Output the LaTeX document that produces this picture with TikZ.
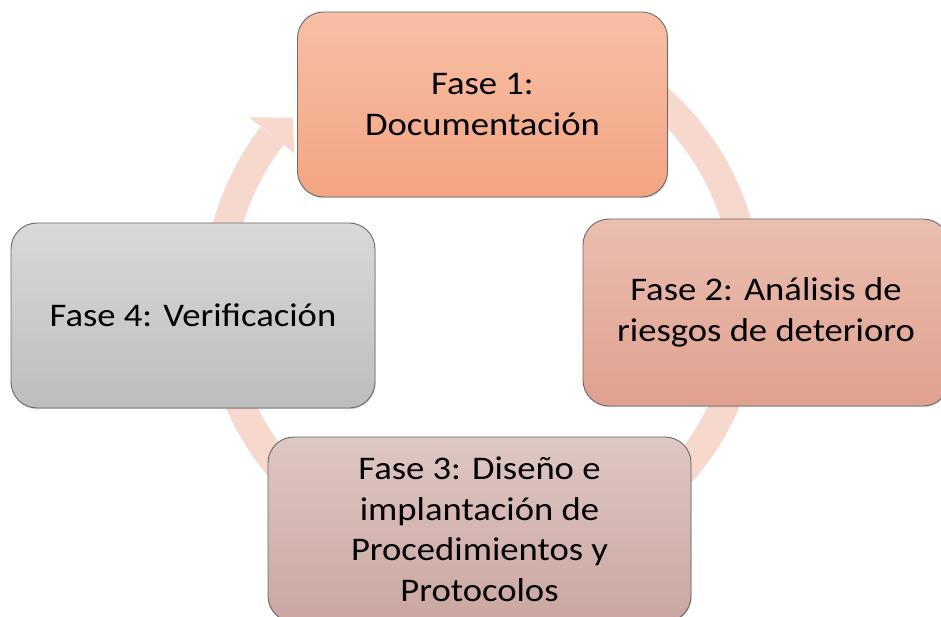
\documentclass[tikz,border=0pt]{standalone}
\usepackage{fontspec}
\setmainfont{Carlito}[FakeStretch=1.11]
\usetikzlibrary{calc,shadows}
\definecolor{arccol}{RGB}{247,216,205}
\definecolor{edgecol}{RGB}{105,105,105}
\definecolor{aTop}{RGB}{247,191,166}
\definecolor{aBot}{RGB}{244,164,130}
\definecolor{bTop}{RGB}{234,190,176}
\definecolor{bBot}{RGB}{224,161,143}
\definecolor{cTop}{RGB}{222,199,196}
\definecolor{cBot}{RGB}{203,166,161}
\definecolor{dTop}{RGB}{217,217,217}
\definecolor{dBot}{RGB}{189,189,189}
\tikzset{
  phase/.style={draw=edgecol, line width=0.9pt, rounded corners=26pt,
    align=center, inner sep=0pt, font=\fontsize{33}{40.5}\selectfont,
    drop shadow={shadow xshift=0.6pt, shadow yshift=-1.2pt, opacity=0.35}},
  cyclearc/.style={draw=arccol, line width=29pt},
}
\begin{document}
\begin{tikzpicture}[x=1pt,y=1pt]
\useasboundingbox (0,0) rectangle (941,-617);
\clip (0,0) rectangle (941,-617);
\coordinate (C) at (482.5,-297);
% cycle arrow
\draw[cyclearc] ($(C)+(90:265)$) arc[start angle=90, end angle=-217.5, radius=265];
\fill[arccol] ($(C)+(142.4:294.5)$) -- ($(C)+(136.6:261)$) -- ($(C)+(142.6:237)$) -- cycle;
% phases
\node[phase, top color=aTop, bottom color=aBot, minimum width=370pt, minimum height=185pt]
  (f1) at (482.5,-104.5) {Fase 1:\\Documentación};
\node[phase, top color=bTop, bottom color=bBot, minimum width=366pt, minimum height=187pt]
  (f2) at (766,-312.5) {Fase 2: Análisis de\\riesgos de deterioro};
\node[phase, top color=cTop, bottom color=cBot, minimum width=423pt, minimum height=185pt]
  (f3) at (479.5,-529.5) {Fase 3: Diseño e\\implantación de\\Procedimientos y\\Protocolos};
\node[phase, top color=dTop, bottom color=dBot, minimum width=364pt, minimum height=185pt]
  (f4) at (193,-315.5) {Fase 4: Verificación};
\end{tikzpicture}
\end{document}
